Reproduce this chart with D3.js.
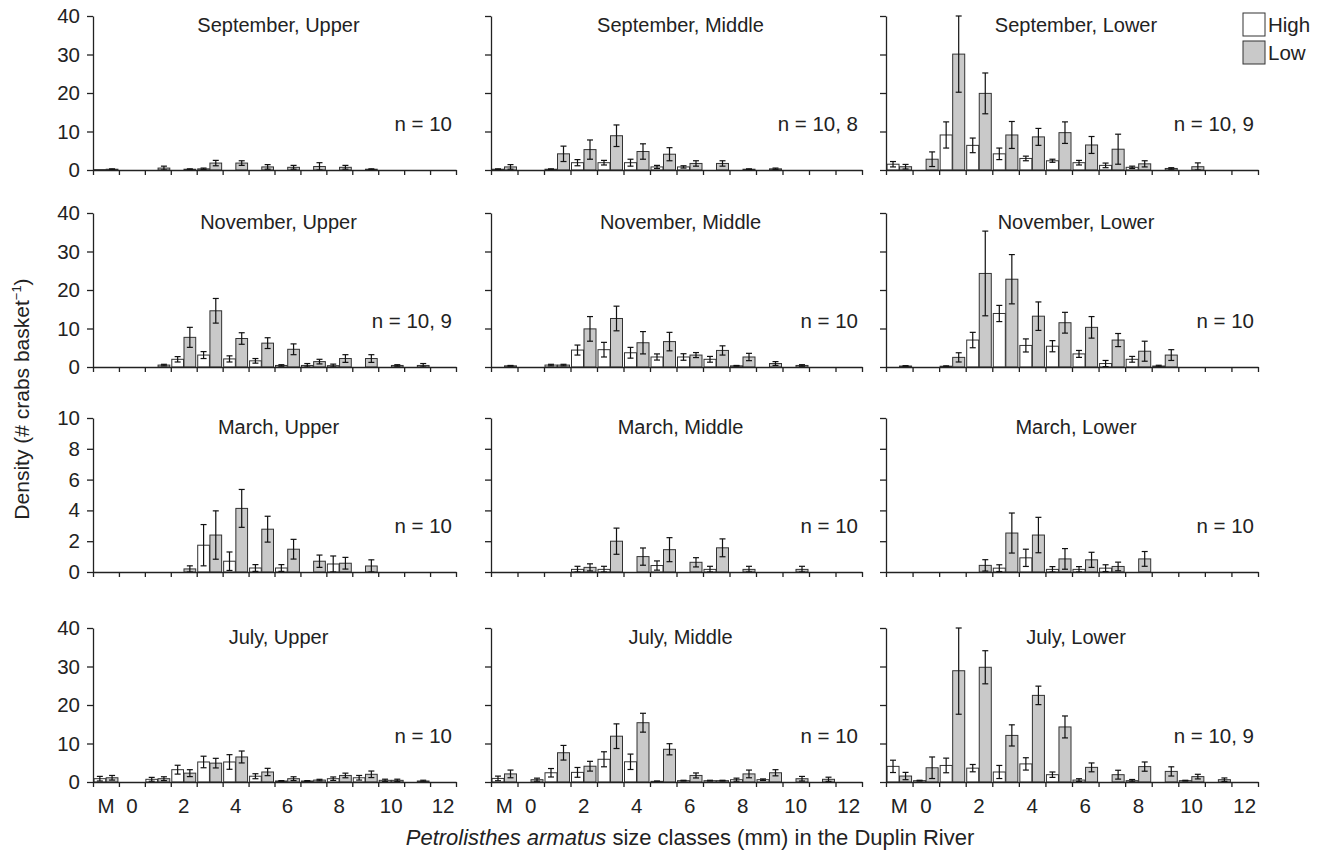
<!DOCTYPE html>
<meta charset="utf-8">
<style>
body { margin: 0; background: #fff; }
svg { font-family: "Liberation Sans", Arial, sans-serif; }
.axis path, .axis line { stroke: #222; stroke-width: 1.3; }
.axis text { fill: #222; font-size: 20.5px; }
.bar { stroke: #333; stroke-width: 1; }
.err { stroke: #111; stroke-width: 1.2; }
.title { fill: #222; font-size: 20px; text-anchor: middle; }
.nlab { fill: #222; font-size: 20.5px; text-anchor: end; }
</style>
<svg width="1326" height="854"></svg>
<script src="https://d3js.org/d3.v7.min.js"></script>
<script>
// size classes: M (megalopae) then 0..12 mm
var categories = ["M","0","1","2","3","4","5","6","7","8","9","10","11","12"];
var xTickLabels = ["M","0","2","4","6","8","10","12"];
var months = ["September","November","March","July"];
var sites = ["Upper","Middle","Lower"];
var nLabels = [["n = 10","n = 10, 8","n = 10, 9"],
               ["n = 10, 9","n = 10","n = 10"],
               ["n = 10","n = 10","n = 10"],
               ["n = 10","n = 10","n = 10, 9"]];
var yMax = [40, 40, 10, 40];
var yTicks = [[0,10,20,30,40],[0,10,20,30,40],[0,2,4,6,8,10],[0,10,20,30,40]];

// September
var sepUpperHigh    = [0.1,0,0,0,0.3,0,0,0,0,0,0,0,0,0];
var sepUpperHighErr = [0,0,0,0,0.2,0,0,0,0,0,0,0,0,0];
var sepUpperLow     = [0.2,0,0.5,0.2,1.8,1.8,0.8,0.7,0.9,0.7,0.2,0,0,0];
var sepUpperLowErr  = [0.1,0,0.5,0.1,0.7,0.6,0.6,0.5,1.0,0.5,0.1,0,0,0];
var sepMiddleHigh    = [0.2,0,0.2,1.9,1.9,1.9,0.8,0.8,0,0,0,0,0,0];
var sepMiddleHighErr = [0.1,0,0.1,0.8,0.6,0.9,0.4,0.3,0,0,0,0,0,0];
var sepMiddleLow     = [0.8,0,4.2,5.3,8.9,4.8,4.1,1.7,1.7,0.2,0.3,0,0,0];
var sepMiddleLowErr  = [0.6,0,2.0,2.5,2.8,2.0,1.7,0.7,0.7,0.1,0.2,0,0,0];
var sepLowerHigh    = [1.5,0,9.1,6.4,4.2,3.0,2.4,1.9,1.2,0.7,0,0,0,0];
var sepLowerHighErr = [0.7,0,3.4,1.9,1.5,0.6,0.4,0.6,0.6,0.3,0,0,0,0];
var sepLowerLow     = [0.85,2.8,30.1,19.9,9.1,8.6,9.7,6.5,5.4,1.6,0.4,0.85,0,0];
var sepLowerLowErr  = [0.6,1.9,9.9,5.3,3.5,2.2,2.8,2.2,3.9,0.8,0.2,1.0,0,0];

// November
var novUpperHigh    = [0,0,0,2.0,3.1,2.1,1.6,0.4,0.4,0.35,0,0,0,0];
var novUpperHighErr = [0,0,0,0.7,0.9,0.8,0.6,0.2,0.5,0.4,0,0,0,0];
var novUpperLow     = [0,0,0.5,7.7,14.6,7.4,6.2,4.6,1.4,2.2,2.2,0.4,0.4,0];
var novUpperLowErr  = [0,0,0.2,2.6,3.2,1.5,1.4,1.4,0.6,1.0,1.0,0.2,0.5,0];
var novMiddleHigh    = [0,0,0.5,4.4,4.5,3.7,2.6,2.6,2.0,0.3,0,0,0,0];
var novMiddleHighErr = [0,0,0.2,1.3,1.9,1.4,0.8,0.85,0.75,0.1,0,0,0,0];
var novMiddleLow     = [0.3,0,0.5,9.9,12.6,6.3,6.6,3.1,4.3,2.6,0.9,0.4,0,0];
var novMiddleLowErr  = [0.1,0,0.2,3.2,3.2,2.9,2.4,0.65,1.2,0.95,0.5,0.2,0,0];
var novLowerHigh    = [0,0,0.2,7.0,13.9,5.6,5.4,3.4,0.9,2.0,0.25,0,0,0];
var novLowerHighErr = [0,0,0.1,2.0,2.1,1.7,1.45,0.9,0.8,0.75,0.2,0,0,0];
var novLowerLow     = [0.25,0,2.5,24.3,22.8,13.2,11.5,10.3,7.0,4.1,3.1,0,0,0];
var novLowerLowErr  = [0.1,0,1.2,11.0,6.4,3.7,2.7,2.8,1.7,2.6,1.4,0,0,0];

// March
var marUpperHigh    = [0,0,0,0,1.74,0.7,0.26,0.26,0,0.52,0,0,0,0];
var marUpperHighErr = [0,0,0,0,1.34,0.6,0.22,0.22,0,0.52,0,0,0,0];
var marUpperLow     = [0,0,0,0.2,2.4,4.13,2.78,1.48,0.7,0.57,0.39,0,0,0];
var marUpperLowErr  = [0,0,0,0.2,1.57,1.23,0.84,0.64,0.4,0.38,0.4,0,0,0];
var marMiddleHigh    = [0,0,0,0.17,0.17,0,0.42,0,0.17,0,0,0,0,0];
var marMiddleHighErr = [0,0,0,0.2,0.2,0,0.3,0,0.2,0,0,0,0,0];
var marMiddleLow     = [0,0,0,0.3,2.0,1.0,1.45,0.63,1.57,0.17,0,0.17,0,0];
var marMiddleLowErr  = [0,0,0,0.23,0.85,0.56,0.78,0.3,0.58,0.2,0,0.2,0,0];
var marLowerHigh    = [0,0,0,0,0.25,0.92,0.17,0.17,0.25,0,0,0,0,0];
var marLowerHighErr = [0,0,0,0,0.22,0.56,0.18,0.18,0.22,0,0,0,0,0];
var marLowerLow     = [0,0,0,0.43,2.53,2.4,0.85,0.79,0.36,0.85,0,0,0,0];
var marLowerLowErr  = [0,0,0,0.37,1.3,1.15,0.67,0.49,0.28,0.48,0,0,0,0];

// July
var julUpperHigh    = [0.86,0,0.7,3.2,5.2,5.2,1.5,0.26,0.26,0.86,1.1,0.43,0,0];
var julUpperHighErr = [0.6,0,0.5,1.15,1.5,1.9,0.65,0.1,0.1,0.45,0.6,0.3,0,0];
var julUpperLow     = [1.1,0,0.86,2.3,4.9,6.5,2.6,0.86,0.5,1.7,2.0,0.43,0.26,0];
var julUpperLowErr  = [0.6,0,0.5,0.9,1.25,1.55,0.95,0.5,0.2,0.6,0.85,0.3,0.2,0];
var julMiddleHigh    = [0.93,0,2.4,2.5,5.9,5.25,0.17,0.35,0.35,0.6,0.6,0,0,0];
var julMiddleHighErr = [0.6,0,1.1,1.27,1.95,2.0,0.1,0.1,0.1,0.4,0.2,0,0,0];
var julMiddleLow     = [2.1,0.6,7.6,4.1,11.9,15.4,8.5,1.7,0.35,2.1,2.4,0.85,0.7,0];
var julMiddleLowErr  = [1.0,0.4,1.9,1.27,3.2,2.45,1.45,0.65,0.1,1.0,0.8,0.6,0.55,0];
var julLowerHigh    = [4.06,0.35,4.3,3.6,2.6,4.7,1.9,0.5,0,0.35,0,0.35,0,0];
var julLowerHighErr = [1.6,0.1,1.9,0.95,1.7,1.6,0.7,0.35,0,0.3,0,0.1,0,0];
var julLowerLow     = [1.55,3.7,28.9,29.8,12.1,22.5,14.3,3.8,1.9,4.0,2.75,1.4,0.6,0];
var julLowerLowErr  = [0.95,2.8,11.3,4.3,2.75,2.4,2.85,1.15,1.15,1.2,1.2,0.6,0.45,0];

var panelData = [
  [[sepUpperHigh,sepUpperHighErr,sepUpperLow,sepUpperLowErr],
   [sepMiddleHigh,sepMiddleHighErr,sepMiddleLow,sepMiddleLowErr],
   [sepLowerHigh,sepLowerHighErr,sepLowerLow,sepLowerLowErr]],
  [[novUpperHigh,novUpperHighErr,novUpperLow,novUpperLowErr],
   [novMiddleHigh,novMiddleHighErr,novMiddleLow,novMiddleLowErr],
   [novLowerHigh,novLowerHighErr,novLowerLow,novLowerLowErr]],
  [[marUpperHigh,marUpperHighErr,marUpperLow,marUpperLowErr],
   [marMiddleHigh,marMiddleHighErr,marMiddleLow,marMiddleLowErr],
   [marLowerHigh,marLowerHighErr,marLowerLow,marLowerLowErr]],
  [[julUpperHigh,julUpperHighErr,julUpperLow,julUpperLowErr],
   [julMiddleHigh,julMiddleHighErr,julMiddleLow,julMiddleLowErr],
   [julLowerHigh,julLowerHighErr,julLowerLow,julLowerLowErr]]
];

var colX = [93, 491, 886];
var colW = [363, 371, 372];
var rowY = [16, 213, 418, 628];
var panelH = 154;
var fills = {High: "#ffffff", Low: "#c9c9c9"};

var svg = d3.select("svg");

panelData.forEach(function(row, r) {
  row.forEach(function(p, c) {
    var g = svg.append("g")
        .attr("transform", "translate(" + colX[c] + "," + rowY[r] + ")");

    var x = d3.scaleBand().domain(categories).range([0, colW[c]]).padding(0);
    var xs = d3.scaleBand().domain(["High","Low"]).range([1, x.bandwidth() - 1]).paddingInner(0.04);
    var xEdge = d3.scaleLinear().domain([0, categories.length]).range([0, colW[c]]);
    var y = d3.scaleLinear().domain([0, yMax[r]]).range([panelH, 0]);

    var rows = categories.map(function(k, i) {
      return [{cat: k, s: "High", v: p[0][i], e: p[1][i]},
              {cat: k, s: "Low",  v: p[2][i], e: p[3][i]}];
    });
    var flat = [].concat.apply([], rows).filter(function(d) { return d.v > 0; });

    g.selectAll("rect.bar")
      .data(flat)
      .enter().append("rect")
        .attr("class", "bar")
        .attr("x", function(d) { return x(d.cat) + xs(d.s); })
        .attr("y", function(d) { return y(d.v); })
        .attr("width", xs.bandwidth())
        .attr("height", function(d) { return panelH - y(d.v); })
        .attr("fill", function(d) { return fills[d.s]; });

    var errs = flat.filter(function(d) { return d.e > 0.05; });
    var cx = function(d) { return x(d.cat) + xs(d.s) + xs.bandwidth() / 2; };
    var eg = g.selectAll("g.err").data(errs).enter().append("g").attr("class", "err");
    eg.append("line")
        .attr("x1", cx).attr("x2", cx)
        .attr("y1", function(d) { return y(Math.min(yMax[r], d.v + d.e)); })
        .attr("y2", function(d) { return y(Math.max(0, d.v - d.e)); });
    eg.append("line")
        .attr("x1", function(d) { return cx(d) - 3; }).attr("x2", function(d) { return cx(d) + 3; })
        .attr("y1", function(d) { return y(Math.min(yMax[r], d.v + d.e)); })
        .attr("y2", function(d) { return y(Math.min(yMax[r], d.v + d.e)); });
    eg.append("line")
        .attr("x1", function(d) { return cx(d) - 3; }).attr("x2", function(d) { return cx(d) + 3; })
        .attr("y1", function(d) { return y(Math.max(0, d.v - d.e)); })
        .attr("y2", function(d) { return y(Math.max(0, d.v - d.e)); });

    // axes
    g.append("g")
        .attr("class", "axis")
        .call(d3.axisLeft(y).tickValues(yTicks[r]).tickSize(6).tickSizeOuter(0).tickPadding(7)
          .tickFormat(c === 0 ? d3.format("d") : ""));
    g.append("g")
        .attr("class", "axis")
        .attr("transform", "translate(0," + panelH + ")")
        .call(d3.axisBottom(xEdge).tickValues(d3.range(categories.length + 1))
          .tickSize(5).tickSizeOuter(0).tickFormat(""));

    if (r === 3) {
      g.selectAll("text.xlab")
        .data(xTickLabels)
        .enter().append("text")
          .attr("class", "xlab")
          .attr("x", function(d) { return x(d) + x.bandwidth() / 2; })
          .attr("y", panelH + 31)
          .attr("text-anchor", "middle")
          .attr("fill", "#222")
          .style("font-size", "20.5px")
          .text(function(d) { return d; });
    }

    g.append("text")
        .attr("class", "title")
        .attr("x", colW[c] / 2 + 4)
        .attr("y", 16)
        .text(months[r] + ", " + sites[c]);

    g.append("text")
        .attr("class", "nlab")
        .attr("x", colW[c] - 4)
        .attr("y", 115)
        .text(nLabels[r][c]);
  });
});

// legend
var legend = svg.append("g").attr("transform", "translate(1243,13)");
["High","Low"].forEach(function(s, i) {
  legend.append("rect")
      .attr("x", 0).attr("y", i * 28)
      .attr("width", 22).attr("height", 23)
      .attr("fill", fills[s]).attr("stroke", "#333");
  legend.append("text")
      .attr("x", 25).attr("y", i * 28 + 19)
      .attr("fill", "#222").style("font-size", "20.5px")
      .text(s);
});

// axis titles
var yt = svg.append("text")
    .attr("transform", "translate(29,399) rotate(-90)")
    .attr("text-anchor", "middle")
    .attr("fill", "#222")
    .style("font-size", "21px");
yt.append("tspan").text("Density (# crabs basket");
yt.append("tspan").attr("dy", -8).style("font-size", "13px").text("\u22121");
yt.append("tspan").attr("dy", 8).text(")");

var xt = svg.append("text")
    .attr("x", 690).attr("y", 845)
    .attr("text-anchor", "middle")
    .attr("fill", "#222")
    .style("font-size", "22px");
xt.append("tspan").style("font-style", "italic").text("Petrolisthes armatus");
xt.append("tspan").text(" size classes (mm) in the Duplin River");
</script>
